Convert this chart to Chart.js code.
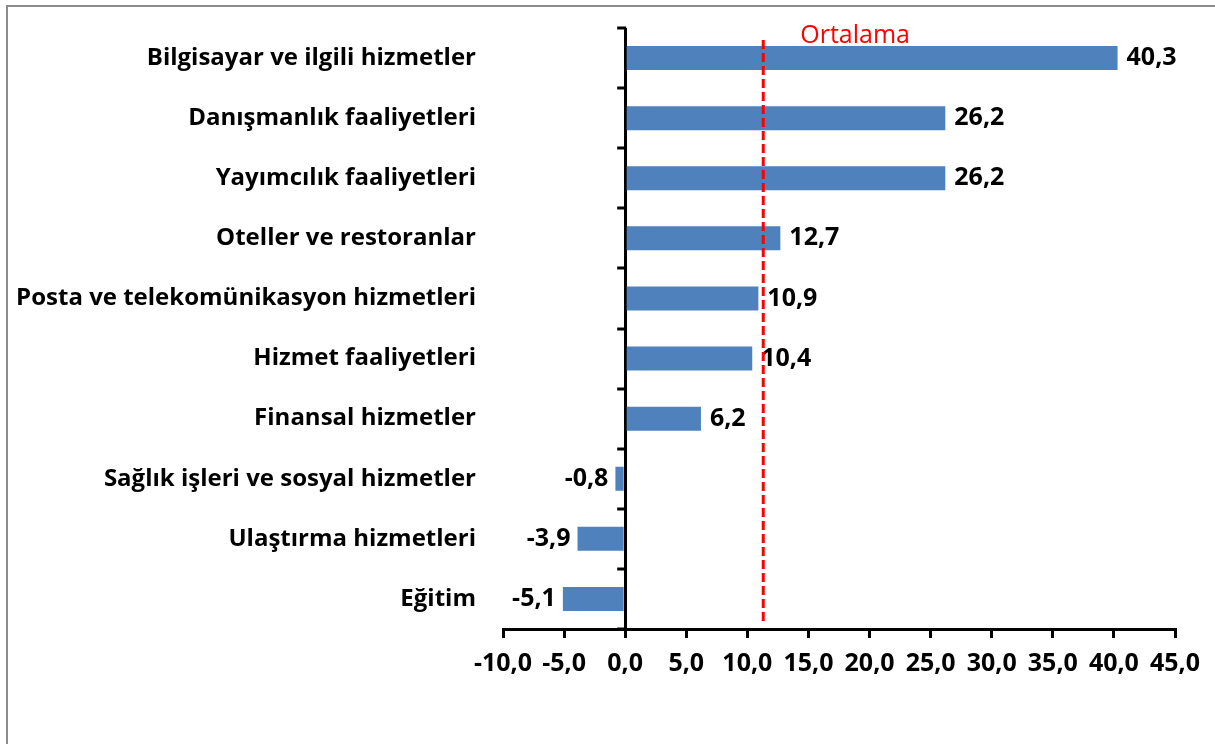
<!DOCTYPE html>
<html>
<head>
<meta charset="utf-8">
<script src="https://cdn.jsdelivr.net/npm/chart.js@4/dist/chart.umd.min.js"></script>
<style>
html,body{margin:0;padding:0;background:#fff;}
#wrap{position:relative;width:1215px;height:744px;overflow:hidden;}
#frame{position:absolute;left:6px;top:5px;width:1300px;height:800px;border-left:2px solid #8c8c8c;border-top:2px solid #8c8c8c;}
canvas{position:absolute;left:0;top:0;}
</style>
</head>
<body>
<div id="wrap"><div id="frame"></div><canvas id="c" width="1215" height="744"></canvas></div>
<script>
const categories = [
  "Bilgisayar ve ilgili hizmetler",
  "Danışmanlık faaliyetleri",
  "Yayımcılık faaliyetleri",
  "Oteller ve restoranlar",
  "Posta ve telekomünikasyon hizmetleri",
  "Hizmet faaliyetleri",
  "Finansal hizmetler",
  "Sağlık işleri ve sosyal hizmetler",
  "Ulaştırma hizmetleri",
  "Eğitim"
];
const values = [40.3, 26.2, 26.2, 12.7, 10.9, 10.4, 6.2, -0.8, -3.9, -5.1];
const averageValue = 11.3;
const averageLabel = "Ortalama";
const xMin = -10, xMax = 45, xStep = 5;

const FONT = "'Open Sans'";
const fmt = v => v.toFixed(1).replace('.', ',');

const overlay = {
  id: 'overlay',
  afterDatasetsDraw(chart) {
    const ctx = chart.ctx;
    const xs = chart.scales.x, ys = chart.scales.y;
    const ca = chart.chartArea;
    const x0 = xs.getPixelForValue(0);
    ctx.save();
    ctx.strokeStyle = '#000';
    ctx.lineWidth = 3;
    for (let i = 0; i <= categories.length; i++) {
      const y = Math.round(ys.getPixelForValue(i - 0.5));
      ctx.beginPath();
      ctx.moveTo(x0 - 8, y);
      ctx.lineTo(x0 + 1, y);
      ctx.stroke();
    }
    ctx.fillStyle = '#000';
    ctx.font = 'bold 25px ' + FONT;
    ctx.textBaseline = 'middle';
    const meta = chart.getDatasetMeta(0);
    meta.data.forEach((bar, i) => {
      const v = values[i];
      if (v >= 0) { ctx.textAlign = 'left'; ctx.fillText(fmt(v), bar.x + 9, bar.y); }
      else { ctx.textAlign = 'right'; ctx.fillText(fmt(v), bar.x - 7, bar.y); }
    });
    const xa = xs.getPixelForValue(averageValue);
    ctx.strokeStyle = '#FF0000';
    ctx.lineWidth = 3;
    ctx.setLineDash([9, 4]);
    ctx.beginPath();
    ctx.moveTo(xa, ca.top + 12);
    ctx.lineTo(xa, ca.bottom - 7);
    ctx.stroke();
    ctx.setLineDash([]);
    ctx.fillStyle = '#FF0000';
    ctx.font = '25px ' + FONT;
    ctx.textAlign = 'left';
    ctx.textBaseline = 'alphabetic';
    ctx.fillText(averageLabel, xa + 37, ca.top + 15);
    ctx.restore();
  }
};

new Chart(document.getElementById('c'), {
  type: 'bar',
  data: {
    labels: categories,
    datasets: [{
      data: values,
      backgroundColor: '#4F81BD',
      barPercentage: 0.8,
      categoryPercentage: 0.5
    }]
  },
  options: {
    indexAxis: 'y',
    responsive: false,
    animation: false,
    layout: { padding: { top: 28, right: 40, left: 8, bottom: 0 } },
    plugins: { legend: { display: false }, tooltip: { enabled: false } },
    scales: {
      x: {
        min: xMin, max: xMax,
        afterFit: s => { s.height = 115; },
        border: { display: true, color: '#000', width: 3 },
        grid: {
          color: c => (c.tick && c.tick.value === 0) ? '#000' : 'rgba(0,0,0,0)',
          tickColor: '#000',
          lineWidth: 3,
          tickLength: 9
        },
        ticks: {
          stepSize: xStep,
          padding: 11,
          color: '#000',
          font: { family: "Open Sans", weight: 'bold', size: 25 },
          callback: v => fmt(v),
          maxRotation: 0,
          autoSkip: false
        }
      },
      y: {
        afterFit: s => { s.width = 495; s.paddingTop = 0; s.paddingBottom = 0; },
        border: { display: false },
        grid: { display: false },
        ticks: {
          padding: 19,
          color: '#000',
          font: { family: "Open Sans", weight: 'bold', size: 24 }
        }
      }
    }
  },
  plugins: [overlay]
});
</script>
</body>
</html>
